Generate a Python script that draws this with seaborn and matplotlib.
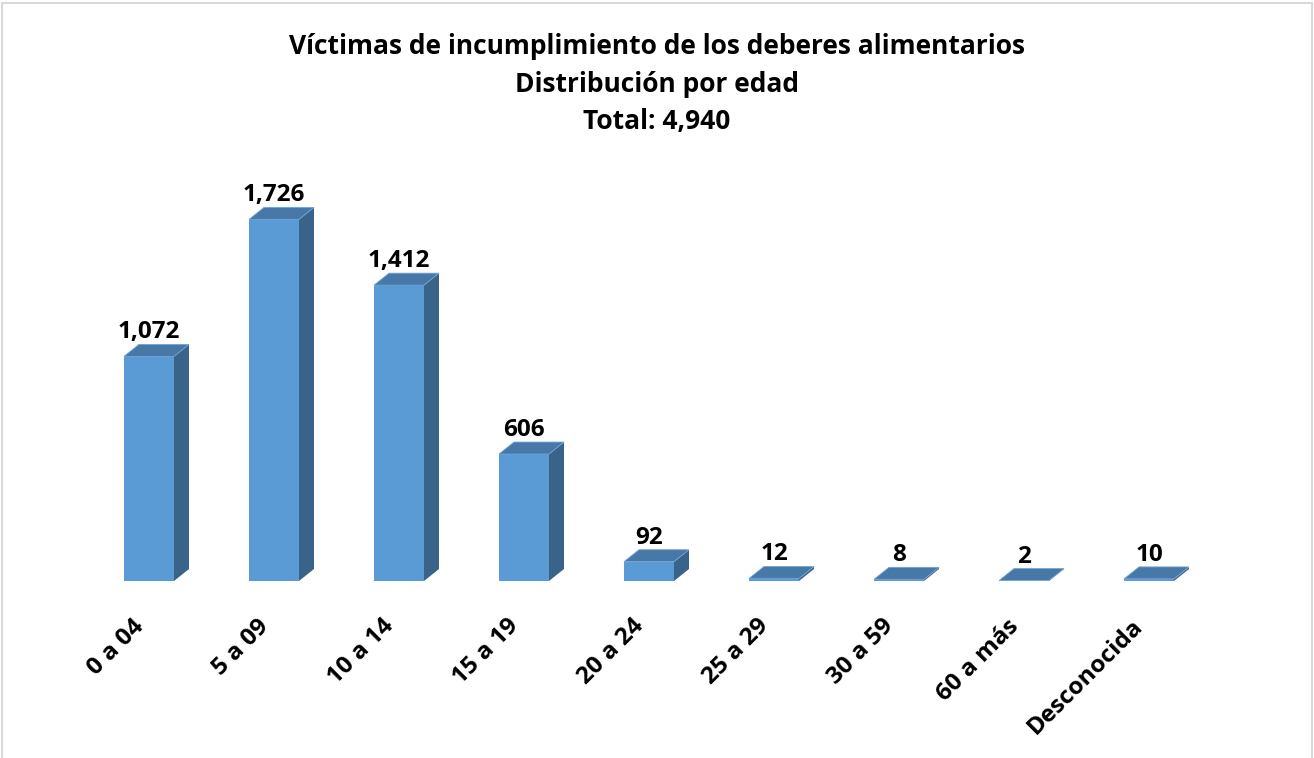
import numpy as np
import pandas as pd
import seaborn as sns
from matplotlib import pyplot as plt
from matplotlib.patches import Polygon, Rectangle
from matplotlib.transforms import ScaledTranslation

# datos del grafico
categorias = ['0 a 04', '5 a 09', '10 a 14', '15 a 19', '20 a 24',
              '25 a 29', '30 a 59', '60 a más', 'Desconocida']
victimas = [1072, 1726, 1412, 606, 92, 12, 8, 2, 10]
titulo = ['Víctimas de incumplimiento de los deberes alimentarios',
          'Distribución por edad',
          'Total: 4,940']

COLOR_FRENTE = '#5b9bd5'
COLOR_TOPE = '#4878a8'
COLOR_LADO = '#3a6389'

sns.set_style('white')
plt.rcParams['font.family'] = ['Open Sans', 'DejaVu Sans']
plt.rcParams['font.weight'] = 'bold'

W, H = 1314, 758
fig = plt.figure(figsize=(W / 100, H / 100), dpi=100)
ax = fig.add_axes([86.5 / W, 177 / H, 1125 / W, 419 / H])

df = pd.DataFrame({'edad': categorias, 'n': victimas})
sns.barplot(data=df, x='edad', y='n', color=COLOR_FRENTE, saturation=1,
            width=0.4, ax=ax, edgecolor='none', zorder=3)
ax.set_xlim(-0.5, len(categorias) - 0.5)
ax.set_ylim(0, 2000)

# profundidad 3D en pixeles -> unidades de datos
px_x = 1125 / len(categorias)
px_y = 419 / 2000
dx, dy = 15 / px_x, 12 / px_y

for bar in ax.patches[:len(categorias)]:
    x0, w, h = bar.get_x(), bar.get_width(), bar.get_height()
    x1 = x0 + w
    tope = Polygon([(x0, h), (x1, h), (x1 + dx, h + dy), (x0 + dx, h + dy)],
                   closed=True, facecolor=COLOR_TOPE, edgecolor='#6fa6d8',
                   lw=0.6, zorder=4)
    lado = Polygon([(x1, 0), (x1 + dx, dy), (x1 + dx, h + dy), (x1, h)],
                   closed=True, facecolor=COLOR_LADO, edgecolor='none', zorder=2)
    ax.add_patch(lado)
    ax.add_patch(tope)
    ax.annotate(f'{int(h):,}', (x0 + w / 2, h), xytext=(0, 13),
                textcoords='offset points', ha='center', va='baseline',
                fontsize=17.5, fontweight='bold', color='black')

ax.set_xlabel('')
ax.set_ylabel('')
ax.set_yticks([])
ax.tick_params(axis='x', length=0, pad=30)
ax.set_xticks(range(len(categorias)))
ax.set_xticklabels(categorias, rotation=45, ha='right', va='center',
                   rotation_mode='anchor', fontsize=17.5, fontweight='bold',
                   color='black')
desplazar = ScaledTranslation(-9 / 100, 0, fig.dpi_scale_trans)
for lbl in ax.get_xticklabels():
    lbl.set_transform(lbl.get_transform() + desplazar)
sns.despine(ax=ax, left=True, bottom=True)

fig.text(0.5, 1 - 84 / H, '\n'.join(titulo), ha='center', va='center',
         fontsize=19, fontweight='bold', linespacing=1.5, color='black')

fig.patches.append(Rectangle((2 / W, -0.01), 1310 / W, 1 - 3 / H + 0.01,
                             transform=fig.transFigure, fill=False,
                             edgecolor='#d9d9d9', lw=1.5))

fig.savefig('out.png', dpi=100)
